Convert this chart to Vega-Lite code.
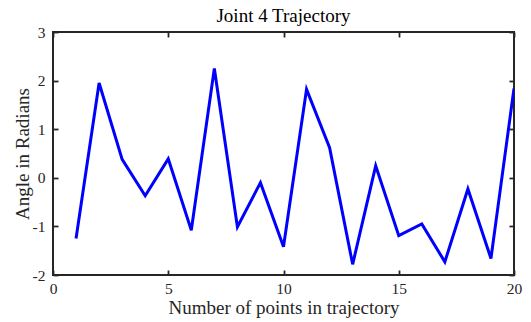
{
  "$schema": "https://vega.github.io/schema/vega-lite/v6.json",
  "width": 461,
  "height": 243,
  "autosize": "none",
  "padding": {"left": 53, "top": 32, "right": 17, "bottom": 47},
  "background": "white",
  "title": {
    "text": "Joint 4 Trajectory",
    "font": "Liberation Serif",
    "fontSize": 19,
    "fontWeight": "normal",
    "color": "#000000",
    "offset": 2,
    "dy": 3
  },
  "config": {
    "view": {"stroke": "#262626", "strokeWidth": 2},
    "axis": {
      "domain": false,
      "grid": false,
      "ticks": true,
      "tickSize": -5,
      "tickWidth": 1.8,
      "tickColor": "#262626",
      "labelFont": "Liberation Serif",
      "labelFontSize": 15.5,
      "labelColor": "#262626",
      "labelExpr": "'' + datum.value",
      "titleFont": "Liberation Serif",
      "titleFontSize": 19,
      "titleFontWeight": "normal",
      "titleColor": "#262626"
    }
  },
  "data": {
    "values": [
      {"point": 1, "angle": -1.25},
      {"point": 2, "angle": 1.95},
      {"point": 3, "angle": 0.38},
      {"point": 4, "angle": -0.37},
      {"point": 5, "angle": 0.39},
      {"point": 6, "angle": -1.08},
      {"point": 7, "angle": 2.25},
      {"point": 8, "angle": -1.01},
      {"point": 9, "angle": -0.1},
      {"point": 10, "angle": -1.42},
      {"point": 11, "angle": 1.82},
      {"point": 12, "angle": 0.62},
      {"point": 13, "angle": -1.78},
      {"point": 14, "angle": 0.245},
      {"point": 15, "angle": -1.19},
      {"point": 16, "angle": -0.95},
      {"point": 17, "angle": -1.73},
      {"point": 18, "angle": -0.23},
      {"point": 19, "angle": -1.66},
      {"point": 20, "angle": 1.84}
    ]
  },
  "layer": [
    {
      "mark": {"type": "line", "color": "#0000FF", "strokeWidth": 3, "clip": true},
      "encoding": {
        "x": {
          "field": "point", "type": "quantitative",
          "scale": {"domain": [0, 20], "nice": false, "zero": false},
          "axis": {"title": "Number of points in trajectory", "values": [0, 5, 10, 15, 20], "labelPadding": 11, "titlePadding": 2, "labelFlush": false}
        },
        "y": {
          "field": "angle", "type": "quantitative",
          "scale": {"domain": [-2, 3], "nice": false, "zero": false},
          "axis": {"title": "Angle in Radians", "values": [-2, -1, 0, 1, 2, 3], "labelPadding": 13, "titlePadding": 0, "labelFlush": false}
        }
      }
    },
    {
      "mark": {"type": "line", "opacity": 0},
      "encoding": {
        "x": {
          "field": "point", "type": "quantitative",
          "scale": {"domain": [0, 20], "nice": false, "zero": false},
          "axis": {"orient": "top", "title": null, "labels": false, "values": [0, 5, 10, 15, 20]}
        },
        "y": {
          "field": "angle", "type": "quantitative",
          "scale": {"domain": [-2, 3], "nice": false, "zero": false},
          "axis": {"orient": "right", "title": null, "labels": false, "values": [-2, -1, 0, 1, 2, 3]}
        }
      }
    }
  ],
  "resolve": {"axis": {"x": "independent", "y": "independent"}}
}
